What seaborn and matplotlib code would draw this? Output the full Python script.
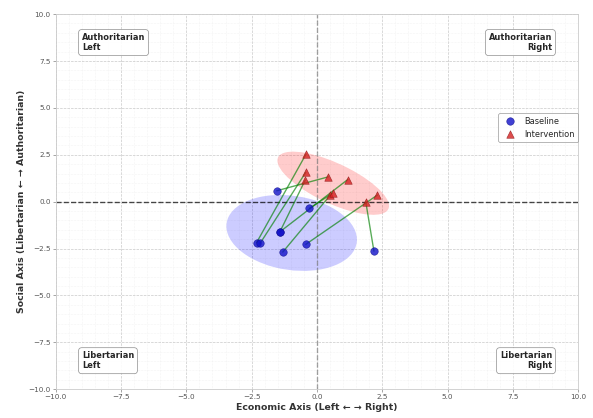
import numpy as np
import matplotlib
matplotlib.use("Agg")
import matplotlib.pyplot as plt
from matplotlib.patches import Ellipse
from matplotlib.ticker import AutoMinorLocator
import seaborn as sns

# ── Data ──────────────────────────────────────────────────────
baseline_x = [-1.54, -2.31, -2.18, -1.42, -1.42, -1.31, -0.43, -0.29, 2.18]
baseline_y = [0.58, -2.18, -2.23, -1.61, -1.61, -2.69, -2.28, -0.36, -2.64]
interv_x = [0.43, -0.42, -0.43, -0.45, 1.18, 0.50, 2.31, 0.60, 1.87]
interv_y = [1.32, 2.53, 1.56, 1.15, 1.18, 0.33, 0.35, 0.45, -0.03]

quadrants = ["Authoritarian\nLeft", "Authoritarian\nRight",
             "Libertarian\nLeft", "Libertarian\nRight"]

# ── Style settings ────────────────────────────────────────────
sns.set_theme(style="whitegrid")
plt.rcParams["font.family"] = ["DejaVu Sans"]


def cov_ellipse(ax, x, y, color, n_std=2.0):
    x, y = np.asarray(x), np.asarray(y)
    cov = np.cov(x, y, bias=True)
    vals, vecs = np.linalg.eigh(cov)
    order = vals.argsort()[::-1]
    vals, vecs = vals[order], vecs[:, order]
    angle = np.degrees(np.arctan2(vecs[1, 0], vecs[0, 0]))
    w, h = 2 * n_std * np.sqrt(vals)
    ell = Ellipse((x.mean(), y.mean()), w, h, angle=angle,
                  facecolor=color, alpha=0.2, edgecolor="none", zorder=1)
    ax.add_patch(ell)


fig, ax = plt.subplots(figsize=(12, 8.46), dpi=49.42)
fig.subplots_adjust(left=0.094, right=0.975, top=0.966, bottom=0.069)

# quadrant axes
ax.axhline(0, color="black", linestyle="--", linewidth=2, alpha=0.7, zorder=2)
ax.axvline(0, color="gray", linestyle="--", linewidth=2, alpha=0.7, zorder=2)

cov_ellipse(ax, baseline_x, baseline_y, "blue", n_std=1.95)
cov_ellipse(ax, interv_x, interv_y, "red", n_std=2.25)

# movement lines
for bx, by, ix, iy in zip(baseline_x, baseline_y, interv_x, interv_y):
    ax.plot([bx, ix], [by, iy], color="green", alpha=0.65, linewidth=2, zorder=3)

sns.scatterplot(x=baseline_x, y=baseline_y, color="#1010c8", marker="o", s=120,
                alpha=0.8, edgecolor="#10108a", linewidth=0.8,
                label="Baseline", ax=ax, zorder=4)
sns.scatterplot(x=interv_x, y=interv_y, color="#d42020", marker="^", s=120,
                alpha=0.8, edgecolor="#8a1010", linewidth=0.8,
                label="Intervention", ax=ax, zorder=4)

# quadrant labels
box = dict(boxstyle="round,pad=0.4", facecolor="white", edgecolor="gray", alpha=0.9)
qfs = 12
ax.text(-9, 9, quadrants[0], ha="left", va="top", fontsize=qfs, fontweight="bold", bbox=box)
ax.text(9, 9, quadrants[1], ha="right", va="top", fontsize=qfs, fontweight="bold",
        multialignment="right", bbox=box)
ax.text(-9, -9, quadrants[2], ha="left", va="bottom", fontsize=qfs, fontweight="bold", bbox=box)
ax.text(9, -9, quadrants[3], ha="right", va="bottom", fontsize=qfs, fontweight="bold",
        multialignment="right", bbox=box)

ax.set_xlim(-10, 10)
ax.set_ylim(-10, 10)
ax.set_xlabel("Economic Axis (Left ← → Right)", fontsize=13.7, fontweight="bold",
              color="#333333")
ax.set_ylabel("Social Axis (Libertarian ← → Authoritarian)", fontsize=13.7,
              fontweight="bold", color="#333333")
ax.tick_params(labelsize=10.5, labelcolor="#555555", length=4, color="#999999",
               left=True, bottom=True)
ax.xaxis.set_minor_locator(AutoMinorLocator(5))
ax.yaxis.set_minor_locator(AutoMinorLocator(5))
ax.grid(True, which="major", linestyle="--", color="#bbbbbb", linewidth=1, alpha=0.8)
ax.grid(True, which="minor", linestyle=":", color="#dddddd", linewidth=0.8, alpha=0.6)
for sp in ax.spines.values():
    sp.set_color("#cccccc")

ax.legend(loc="upper right", bbox_to_anchor=(1.0, 0.736), borderaxespad=0,
          fontsize=12, frameon=True, edgecolor="gray")

plt.savefig("out.png", dpi=49.42)
